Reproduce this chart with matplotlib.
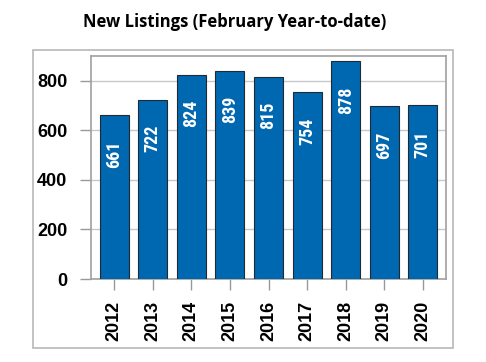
import matplotlib
matplotlib.use("Agg")
import matplotlib.pyplot as plt
from matplotlib.patches import Rectangle

years = ["2012", "2013", "2014", "2015", "2016", "2017", "2018", "2019", "2020"]
values = [661, 722, 824, 839, 815, 754, 878, 697, 701]
yticks = [0, 200, 400, 600, 800]
title = "New Listings (February Year-to-date)"

W, H = 486, 362
fig = plt.figure(figsize=(W / 100, H / 100), dpi=100)

# outer frame
fig.patches.append(Rectangle((33 / W, 1 - 348 / H), (453 - 33) / W, (348 - 49.5) / H,
                             transform=fig.transFigure, fill=False,
                             edgecolor="#b8b8b8", linewidth=1.2))

ax = fig.add_axes([91 / W, 1 - 279 / H, (446 - 91) / W, (279 - 56) / H])
x = list(range(len(years)))
ax.bar(x, values, width=0.75, color="#0067B1", edgecolor="#1f2a33", linewidth=0.8, zorder=3)
for xi, v in zip(x, values):
    ax.annotate(str(v), (xi, v), xytext=(0, -18), textcoords="offset points",
                ha="center", va="top", rotation=90, color="white",
                fontsize=13, fontweight="bold", family=["Roboto Condensed", "DejaVu Sans"],
                zorder=4)

ax.set_xlim(-0.6, 8.6)
ax.set_ylim(0, 900)
ax.set_yticks(yticks)
ax.set_yticklabels([str(t) for t in yticks], fontsize=13, fontweight="bold",
                   family=["Liberation Sans", "DejaVu Sans"])
ax.set_xticks(x)
ax.set_xticklabels(years, rotation=90, fontsize=13, fontweight="bold",
                   family=["Liberation Sans", "DejaVu Sans"])
ax.yaxis.grid(True, color="#c8c8c8", linewidth=1, zorder=0)
ax.set_axisbelow(True)
ax.tick_params(axis="both", length=8, width=1, color="#999999", pad=8)
ax.tick_params(axis="y", pad=9)
for s in ax.spines.values():
    s.set_color("#a0a0a0")
    s.set_linewidth(1.2)

fig.text(235 / W, 1 - 22 / H, title, ha="center", va="center", fontsize=12,
         fontweight="bold", family=["Open Sans", "DejaVu Sans"])

fig.savefig("out.png", dpi=100)
